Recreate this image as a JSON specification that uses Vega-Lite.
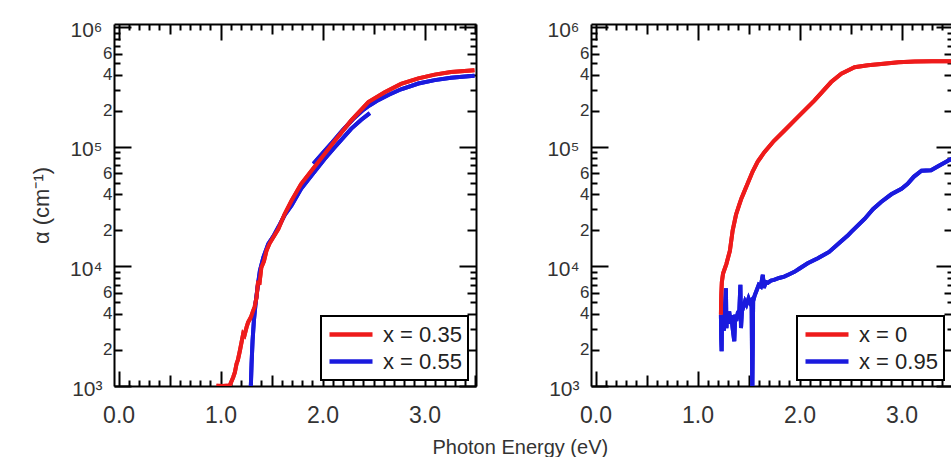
{
  "$schema": "https://vega.github.io/schema/vega-lite/v6.json",
  "background": "white",
  "padding": {"left": 30, "top": 19, "right": 0, "bottom": 0},
  "bounds": "flush",
  "spacing": 115,
  "title": {"text": "Photon Energy (eV)", "orient": "bottom", "anchor": "middle", "fontSize": 20, "font": "Liberation Sans", "fontWeight": "normal", "color": "#333", "offset": 6, "dx": 28, "dy": -4},
  "resolve": {"scale": {"color": "independent"}, "legend": {"color": "independent"}},
  "hconcat": [
    {
      "width": 362, "height": 362,
      "data": {"values": [
        {"s": "x = 0.55", "g": "b1", "E": 1.297, "a": 1000},
        {"s": "x = 0.55", "g": "b1", "E": 1.304, "a": 1530},
        {"s": "x = 0.55", "g": "b1", "E": 1.314, "a": 2400},
        {"s": "x = 0.55", "g": "b1", "E": 1.327, "a": 3530},
        {"s": "x = 0.55", "g": "b1", "E": 1.343, "a": 4870},
        {"s": "x = 0.55", "g": "b1", "E": 1.363, "a": 6700},
        {"s": "x = 0.55", "g": "b1", "E": 1.386, "a": 9200},
        {"s": "x = 0.55", "g": "b1", "E": 1.42, "a": 11900},
        {"s": "x = 0.55", "g": "b1", "E": 1.468, "a": 15400},
        {"s": "x = 0.55", "g": "b1", "E": 1.517, "a": 17800},
        {"s": "x = 0.55", "g": "b1", "E": 1.57, "a": 21500},
        {"s": "x = 0.55", "g": "b1", "E": 1.63, "a": 27000},
        {"s": "x = 0.55", "g": "b1", "E": 1.696, "a": 32300},
        {"s": "x = 0.55", "g": "b1", "E": 1.79, "a": 44600},
        {"s": "x = 0.55", "g": "b1", "E": 1.892, "a": 57300},
        {"s": "x = 0.55", "g": "b1", "E": 2.02, "a": 79000},
        {"s": "x = 0.55", "g": "b1", "E": 2.12, "a": 99000},
        {"s": "x = 0.55", "g": "b1", "E": 2.28, "a": 141000},
        {"s": "x = 0.55", "g": "b1", "E": 2.38, "a": 168000},
        {"s": "x = 0.55", "g": "b1", "E": 2.464, "a": 191000},
        {"s": "x = 0.55", "g": "b2", "E": 1.91, "a": 72000},
        {"s": "x = 0.55", "g": "b2", "E": 2.0, "a": 88000},
        {"s": "x = 0.55", "g": "b2", "E": 2.1, "a": 110000},
        {"s": "x = 0.55", "g": "b2", "E": 2.2, "a": 138000},
        {"s": "x = 0.55", "g": "b2", "E": 2.3, "a": 170000},
        {"s": "x = 0.55", "g": "b2", "E": 2.4, "a": 203000},
        {"s": "x = 0.55", "g": "b2", "E": 2.46, "a": 221000},
        {"s": "x = 0.55", "g": "b2", "E": 2.55, "a": 246000},
        {"s": "x = 0.55", "g": "b2", "E": 2.65, "a": 272000},
        {"s": "x = 0.55", "g": "b2", "E": 2.77, "a": 302000},
        {"s": "x = 0.55", "g": "b2", "E": 2.94, "a": 337000},
        {"s": "x = 0.55", "g": "b2", "E": 3.1, "a": 360000},
        {"s": "x = 0.55", "g": "b2", "E": 3.26, "a": 377000},
        {"s": "x = 0.55", "g": "b2", "E": 3.4, "a": 386000},
        {"s": "x = 0.55", "g": "b2", "E": 3.49, "a": 392000},
        {"s": "x = 0.35", "g": "r1", "E": 0.96, "a": 1005},
        {"s": "x = 0.35", "g": "r1", "E": 1.02, "a": 1000},
        {"s": "x = 0.35", "g": "r1", "E": 1.09, "a": 1008},
        {"s": "x = 0.35", "g": "r1", "E": 1.124, "a": 1185},
        {"s": "x = 0.35", "g": "r1", "E": 1.14, "a": 1300},
        {"s": "x = 0.35", "g": "r1", "E": 1.157, "a": 1535},
        {"s": "x = 0.35", "g": "r1", "E": 1.17, "a": 1650},
        {"s": "x = 0.35", "g": "r1", "E": 1.19, "a": 1980},
        {"s": "x = 0.35", "g": "r1", "E": 1.205, "a": 2300},
        {"s": "x = 0.35", "g": "r1", "E": 1.222, "a": 2730},
        {"s": "x = 0.35", "g": "r1", "E": 1.235, "a": 2650},
        {"s": "x = 0.35", "g": "r1", "E": 1.255, "a": 3100},
        {"s": "x = 0.35", "g": "r1", "E": 1.27, "a": 3400},
        {"s": "x = 0.35", "g": "r1", "E": 1.288, "a": 3630},
        {"s": "x = 0.35", "g": "r1", "E": 1.3, "a": 3800},
        {"s": "x = 0.35", "g": "r1", "E": 1.32, "a": 4270},
        {"s": "x = 0.35", "g": "r1", "E": 1.335, "a": 4600},
        {"s": "x = 0.35", "g": "r1", "E": 1.353, "a": 5520},
        {"s": "x = 0.35", "g": "r1", "E": 1.369, "a": 7600},
        {"s": "x = 0.35", "g": "r1", "E": 1.38, "a": 7000},
        {"s": "x = 0.35", "g": "r1", "E": 1.4, "a": 9800},
        {"s": "x = 0.35", "g": "r1", "E": 1.425, "a": 11000},
        {"s": "x = 0.35", "g": "r1", "E": 1.45, "a": 13500},
        {"s": "x = 0.35", "g": "r1", "E": 1.48, "a": 15500},
        {"s": "x = 0.35", "g": "r1", "E": 1.517, "a": 17500},
        {"s": "x = 0.35", "g": "r1", "E": 1.566, "a": 20500},
        {"s": "x = 0.35", "g": "r1", "E": 1.63, "a": 27500},
        {"s": "x = 0.35", "g": "r1", "E": 1.696, "a": 35300},
        {"s": "x = 0.35", "g": "r1", "E": 1.79, "a": 48700},
        {"s": "x = 0.35", "g": "r1", "E": 1.892, "a": 63000},
        {"s": "x = 0.35", "g": "r1", "E": 2.02, "a": 87000},
        {"s": "x = 0.35", "g": "r1", "E": 2.12, "a": 112000},
        {"s": "x = 0.35", "g": "r1", "E": 2.28, "a": 165000},
        {"s": "x = 0.35", "g": "r1", "E": 2.45, "a": 236000},
        {"s": "x = 0.35", "g": "r1", "E": 2.61, "a": 285000},
        {"s": "x = 0.35", "g": "r1", "E": 2.77, "a": 335000},
        {"s": "x = 0.35", "g": "r1", "E": 2.94, "a": 372000},
        {"s": "x = 0.35", "g": "r1", "E": 3.1, "a": 400000},
        {"s": "x = 0.35", "g": "r1", "E": 3.26, "a": 420000},
        {"s": "x = 0.35", "g": "r1", "E": 3.49, "a": 436000}
      ]},
      "encoding": {
        "color": {"field": "s", "type": "nominal", "scale": {"domain": ["x = 0.35", "x = 0.55"], "range": ["#ee1b1b", "#1a1ade"]}, "legend": {"title": null, "orient": "none", "legendX": 207, "legendY": 292}},
        "detail": {"field": "g"}
      },
      "layer": [
        {
          "mark": {"type": "line", "strokeWidth": 4, "clip": true},
          "encoding": {
            "x": {"field": "E", "type": "quantitative", "scale": {"domain": [-0.045, 3.505], "nice": false, "zero": false},
              "axis": {"orient": "bottom", "title": null, "values": [0,0.1,0.2,0.3,0.4,0.5,0.6,0.7,0.8,0.9,1,1.1,1.2,1.3,1.4,1.5,1.6,1.7,1.8,1.9,2,2.1,2.2,2.3,2.4,2.5,2.6,2.7,2.8,2.9,3,3.1,3.2,3.3,3.4,3.5],
                "labelExpr": "abs(datum.value-round(datum.value))<0.001 ? format(datum.value,'.1f') : ''",
                "labelFontSize": 23, "labelPadding": 33, "labelOverlap": false, "labelFlush": false, "labelBound": false,
                "tickSize": {"condition": [{"test": "abs(datum.value-round(datum.value))<0.001", "value": -15}, {"test": "abs(datum.value*2-round(datum.value*2))<0.001", "value": -11}], "value": -6}}},
            "y": {"field": "a", "type": "quantitative", "scale": {"type": "log", "domain": [1000, 1060000], "nice": false},
              "axis": {"orient": "left", "title": "α (cm⁻¹)", "titleFontSize": 22, "titlePadding": 16,
                "values": [1000,2000,3000,4000,5000,6000,7000,8000,9000,10000,20000,30000,40000,50000,60000,70000,80000,90000,100000,200000,300000,400000,500000,600000,700000,800000,900000,1000000],
                "labelExpr": "datum.value == 1000 ? '10³' : datum.value == 10000 ? '10⁴' : datum.value == 100000 ? '10⁵' : datum.value == 1000000 ? '10⁶' : indexof([2000,4000,6000,20000,40000,60000,200000,400000,600000], datum.value) >= 0 ? substring(toString(datum.value), 0, 1) : ''",
                "labelOverlap": false, "labelFlush": false, "labelBound": false,
                "labelFontSize": {"condition": {"test": "indexof([1000,10000,100000,1000000], datum.value) >= 0", "value": 21}, "value": 17},
                "labelPadding": {"condition": {"test": "indexof([1000,10000,100000,1000000], datum.value) >= 0", "value": 29}, "value": 10},
                "labelOffset": {"condition": {"test": "indexof([1000,10000,100000,1000000], datum.value) >= 0", "value": 3}, "value": 0},
                "tickSize": {"condition": [{"test": "indexof([1000,10000,100000,1000000], datum.value) >= 0", "value": -17}, {"test": "indexof([2000,4000,6000,20000,40000,60000,200000,400000,600000], datum.value) >= 0", "value": -8}], "value": -6}}}
          }
        },
        {
          "mark": {"type": "line", "strokeWidth": 4, "clip": true},
          "encoding": {
            "x": {"field": "E", "type": "quantitative",
              "axis": {"orient": "top", "title": null, "labels": false, "values": [0,0.1,0.2,0.3,0.4,0.5,0.6,0.7,0.8,0.9,1,1.1,1.2,1.3,1.4,1.5,1.6,1.7,1.8,1.9,2,2.1,2.2,2.3,2.4,2.5,2.6,2.7,2.8,2.9,3,3.1,3.2,3.3,3.4,3.5],
                "tickSize": {"condition": [{"test": "abs(datum.value-round(datum.value))<0.001", "value": -16}, {"test": "abs(datum.value*2-round(datum.value*2))<0.001", "value": -10}], "value": -6}}},
            "y": {"field": "a", "type": "quantitative",
              "axis": {"orient": "right", "title": null, "labels": false,
                "values": [1000,2000,3000,4000,5000,6000,7000,8000,9000,10000,20000,30000,40000,50000,60000,70000,80000,90000,100000,200000,300000,400000,500000,600000,700000,800000,900000,1000000],
                "tickSize": {"condition": [{"test": "indexof([1000,10000,100000,1000000], datum.value) >= 0", "value": -17}, {"test": "indexof([2000,4000,6000,20000,40000,60000,200000,400000,600000], datum.value) >= 0", "value": -9}], "value": -6}}}
          }
        }
      ],
      "resolve": {"axis": {"x": "independent", "y": "independent"}}
    },
    {
      "width": 362, "height": 362,
      "data": {"values": [
        {"s": "x = 0.95", "g": "b", "E": 1.229, "a": 3950},
        {"s": "x = 0.95", "g": "b", "E": 1.232, "a": 2500},
        {"s": "x = 0.95", "g": "b", "E": 1.236, "a": 1950},
        {"s": "x = 0.95", "g": "b", "E": 1.24, "a": 3700},
        {"s": "x = 0.95", "g": "b", "E": 1.245, "a": 3000},
        {"s": "x = 0.95", "g": "b", "E": 1.25, "a": 3600},
        {"s": "x = 0.95", "g": "b", "E": 1.258, "a": 2900},
        {"s": "x = 0.95", "g": "b", "E": 1.265, "a": 4000},
        {"s": "x = 0.95", "g": "b", "E": 1.272, "a": 5200},
        {"s": "x = 0.95", "g": "b", "E": 1.278, "a": 6560},
        {"s": "x = 0.95", "g": "b", "E": 1.283, "a": 3050},
        {"s": "x = 0.95", "g": "b", "E": 1.29, "a": 3800},
        {"s": "x = 0.95", "g": "b", "E": 1.3, "a": 3300},
        {"s": "x = 0.95", "g": "b", "E": 1.31, "a": 4200},
        {"s": "x = 0.95", "g": "b", "E": 1.32, "a": 3600},
        {"s": "x = 0.95", "g": "b", "E": 1.33, "a": 3900},
        {"s": "x = 0.95", "g": "b", "E": 1.345, "a": 3000},
        {"s": "x = 0.95", "g": "b", "E": 1.36, "a": 2370},
        {"s": "x = 0.95", "g": "b", "E": 1.37, "a": 3950},
        {"s": "x = 0.95", "g": "b", "E": 1.38, "a": 3500},
        {"s": "x = 0.95", "g": "b", "E": 1.395, "a": 4100},
        {"s": "x = 0.95", "g": "b", "E": 1.41, "a": 4300},
        {"s": "x = 0.95", "g": "b", "E": 1.42, "a": 7000},
        {"s": "x = 0.95", "g": "b", "E": 1.426, "a": 3050},
        {"s": "x = 0.95", "g": "b", "E": 1.435, "a": 4200},
        {"s": "x = 0.95", "g": "b", "E": 1.45, "a": 4600},
        {"s": "x = 0.95", "g": "b", "E": 1.465, "a": 5100},
        {"s": "x = 0.95", "g": "b", "E": 1.48, "a": 4800},
        {"s": "x = 0.95", "g": "b", "E": 1.5, "a": 5400},
        {"s": "x = 0.95", "g": "b", "E": 1.515, "a": 5000},
        {"s": "x = 0.95", "g": "b", "E": 1.53, "a": 5200},
        {"s": "x = 0.95", "g": "b", "E": 1.537, "a": 900},
        {"s": "x = 0.95", "g": "b", "E": 1.545, "a": 5100},
        {"s": "x = 0.95", "g": "b", "E": 1.56, "a": 5700},
        {"s": "x = 0.95", "g": "b", "E": 1.58, "a": 6300},
        {"s": "x = 0.95", "g": "b", "E": 1.6, "a": 7000},
        {"s": "x = 0.95", "g": "b", "E": 1.62, "a": 6800},
        {"s": "x = 0.95", "g": "b", "E": 1.64, "a": 8500},
        {"s": "x = 0.95", "g": "b", "E": 1.65, "a": 6600},
        {"s": "x = 0.95", "g": "b", "E": 1.67, "a": 7400},
        {"s": "x = 0.95", "g": "b", "E": 1.69, "a": 7300},
        {"s": "x = 0.95", "g": "b", "E": 1.72, "a": 7600},
        {"s": "x = 0.95", "g": "b", "E": 1.75, "a": 7700},
        {"s": "x = 0.95", "g": "b", "E": 1.8, "a": 8000},
        {"s": "x = 0.95", "g": "b", "E": 1.85, "a": 8200},
        {"s": "x = 0.95", "g": "b", "E": 1.9, "a": 8600},
        {"s": "x = 0.95", "g": "b", "E": 1.95, "a": 9000},
        {"s": "x = 0.95", "g": "b", "E": 2.0, "a": 9600},
        {"s": "x = 0.95", "g": "b", "E": 2.08, "a": 10600},
        {"s": "x = 0.95", "g": "b", "E": 2.18, "a": 11700},
        {"s": "x = 0.95", "g": "b", "E": 2.29, "a": 13200},
        {"s": "x = 0.95", "g": "b", "E": 2.4, "a": 16000},
        {"s": "x = 0.95", "g": "b", "E": 2.47, "a": 18000},
        {"s": "x = 0.95", "g": "b", "E": 2.51, "a": 19500},
        {"s": "x = 0.95", "g": "b", "E": 2.64, "a": 25000},
        {"s": "x = 0.95", "g": "b", "E": 2.72, "a": 30000},
        {"s": "x = 0.95", "g": "b", "E": 2.8, "a": 34500},
        {"s": "x = 0.95", "g": "b", "E": 2.9, "a": 40000},
        {"s": "x = 0.95", "g": "b", "E": 3.0, "a": 44500},
        {"s": "x = 0.95", "g": "b", "E": 3.06, "a": 49000},
        {"s": "x = 0.95", "g": "b", "E": 3.12, "a": 56000},
        {"s": "x = 0.95", "g": "b", "E": 3.196, "a": 63000},
        {"s": "x = 0.95", "g": "b", "E": 3.29, "a": 63500},
        {"s": "x = 0.95", "g": "b", "E": 3.35, "a": 68000},
        {"s": "x = 0.95", "g": "b", "E": 3.46, "a": 76700},
        {"s": "x = 0.95", "g": "b", "E": 3.505, "a": 80000},
        {"s": "x = 0", "g": "r", "E": 1.229, "a": 3950},
        {"s": "x = 0", "g": "r", "E": 1.231, "a": 5000},
        {"s": "x = 0", "g": "r", "E": 1.233, "a": 5900},
        {"s": "x = 0", "g": "r", "E": 1.238, "a": 7360},
        {"s": "x = 0", "g": "r", "E": 1.25, "a": 8700},
        {"s": "x = 0", "g": "r", "E": 1.283, "a": 10500},
        {"s": "x = 0", "g": "r", "E": 1.317, "a": 13500},
        {"s": "x = 0", "g": "r", "E": 1.344, "a": 19900},
        {"s": "x = 0", "g": "r", "E": 1.377, "a": 27000},
        {"s": "x = 0", "g": "r", "E": 1.41, "a": 33000},
        {"s": "x = 0", "g": "r", "E": 1.43, "a": 37000},
        {"s": "x = 0", "g": "r", "E": 1.46, "a": 42500},
        {"s": "x = 0", "g": "r", "E": 1.49, "a": 49000},
        {"s": "x = 0", "g": "r", "E": 1.54, "a": 62000},
        {"s": "x = 0", "g": "r", "E": 1.59, "a": 75000},
        {"s": "x = 0", "g": "r", "E": 1.655, "a": 90000},
        {"s": "x = 0", "g": "r", "E": 1.75, "a": 112000},
        {"s": "x = 0", "g": "r", "E": 1.85, "a": 136000},
        {"s": "x = 0", "g": "r", "E": 1.98, "a": 176000},
        {"s": "x = 0", "g": "r", "E": 2.145, "a": 243000},
        {"s": "x = 0", "g": "r", "E": 2.31, "a": 347000},
        {"s": "x = 0", "g": "r", "E": 2.41, "a": 408000},
        {"s": "x = 0", "g": "r", "E": 2.54, "a": 461000},
        {"s": "x = 0", "g": "r", "E": 2.67, "a": 480000},
        {"s": "x = 0", "g": "r", "E": 2.8, "a": 492000},
        {"s": "x = 0", "g": "r", "E": 2.97, "a": 508000},
        {"s": "x = 0", "g": "r", "E": 3.13, "a": 516000},
        {"s": "x = 0", "g": "r", "E": 3.3, "a": 518000},
        {"s": "x = 0", "g": "r", "E": 3.46, "a": 518000},
        {"s": "x = 0", "g": "r", "E": 3.505, "a": 516000}
      ]},
      "encoding": {
        "color": {"field": "s", "type": "nominal", "scale": {"domain": ["x = 0", "x = 0.95"], "range": ["#ee1b1b", "#1a1ade"]}, "legend": {"title": null, "orient": "none", "legendX": 206, "legendY": 292}},
        "detail": {"field": "g"}
      },
      "layer": [
        {
          "mark": {"type": "line", "strokeWidth": 4, "clip": true},
          "encoding": {
            "x": {"field": "E", "type": "quantitative", "scale": {"domain": [-0.045, 3.505], "nice": false, "zero": false},
              "axis": {"orient": "bottom", "title": null, "values": [0,0.1,0.2,0.3,0.4,0.5,0.6,0.7,0.8,0.9,1,1.1,1.2,1.3,1.4,1.5,1.6,1.7,1.8,1.9,2,2.1,2.2,2.3,2.4,2.5,2.6,2.7,2.8,2.9,3,3.1,3.2,3.3,3.4,3.5],
                "labelExpr": "abs(datum.value-round(datum.value))<0.001 ? format(datum.value,'.1f') : ''",
                "labelFontSize": 23, "labelPadding": 33, "labelOverlap": false, "labelFlush": false, "labelBound": false,
                "tickSize": {"condition": [{"test": "abs(datum.value-round(datum.value))<0.001", "value": -15}, {"test": "abs(datum.value*2-round(datum.value*2))<0.001", "value": -11}], "value": -6}}},
            "y": {"field": "a", "type": "quantitative", "scale": {"type": "log", "domain": [1000, 1060000], "nice": false},
              "axis": {"orient": "left", "title": null,
                "values": [1000,2000,3000,4000,5000,6000,7000,8000,9000,10000,20000,30000,40000,50000,60000,70000,80000,90000,100000,200000,300000,400000,500000,600000,700000,800000,900000,1000000],
                "labelExpr": "datum.value == 1000 ? '10³' : datum.value == 10000 ? '10⁴' : datum.value == 100000 ? '10⁵' : datum.value == 1000000 ? '10⁶' : indexof([2000,4000,6000,20000,40000,60000,200000,400000,600000], datum.value) >= 0 ? substring(toString(datum.value), 0, 1) : ''",
                "labelOverlap": false, "labelFlush": false, "labelBound": false,
                "labelFontSize": {"condition": {"test": "indexof([1000,10000,100000,1000000], datum.value) >= 0", "value": 21}, "value": 17},
                "labelPadding": {"condition": {"test": "indexof([1000,10000,100000,1000000], datum.value) >= 0", "value": 29}, "value": 10},
                "labelOffset": {"condition": {"test": "indexof([1000,10000,100000,1000000], datum.value) >= 0", "value": 3}, "value": 0},
                "tickSize": {"condition": [{"test": "indexof([1000,10000,100000,1000000], datum.value) >= 0", "value": -17}, {"test": "indexof([2000,4000,6000,20000,40000,60000,200000,400000,600000], datum.value) >= 0", "value": -8}], "value": -6}}}
          }
        },
        {
          "mark": {"type": "line", "strokeWidth": 4, "clip": true},
          "encoding": {
            "x": {"field": "E", "type": "quantitative",
              "axis": {"orient": "top", "title": null, "labels": false, "values": [0,0.1,0.2,0.3,0.4,0.5,0.6,0.7,0.8,0.9,1,1.1,1.2,1.3,1.4,1.5,1.6,1.7,1.8,1.9,2,2.1,2.2,2.3,2.4,2.5,2.6,2.7,2.8,2.9,3,3.1,3.2,3.3,3.4,3.5],
                "tickSize": {"condition": [{"test": "abs(datum.value-round(datum.value))<0.001", "value": -16}, {"test": "abs(datum.value*2-round(datum.value*2))<0.001", "value": -10}], "value": -6}}},
            "y": {"field": "a", "type": "quantitative",
              "axis": {"orient": "right", "title": null, "labels": false,
                "values": [1000,2000,3000,4000,5000,6000,7000,8000,9000,10000,20000,30000,40000,50000,60000,70000,80000,90000,100000,200000,300000,400000,500000,600000,700000,800000,900000,1000000],
                "tickSize": {"condition": [{"test": "indexof([1000,10000,100000,1000000], datum.value) >= 0", "value": -17}, {"test": "indexof([2000,4000,6000,20000,40000,60000,200000,400000,600000], datum.value) >= 0", "value": -9}], "value": -6}}}
          }
        }
      ],
      "resolve": {"axis": {"x": "independent", "y": "independent"}}
    }
  ],
  "config": {
    "view": {"stroke": null},
    "font": "Liberation Sans",
    "axis": {"domainColor": "#000", "domainWidth": 2, "tickColor": "#000", "tickWidth": 2, "grid": false, "labelColor": "#333", "labelFont": "Liberation Sans", "titleFont": "Liberation Sans", "titleFontWeight": "normal", "titleColor": "#333"},
    "legend": {"symbolType": "stroke", "symbolStrokeWidth": 4.5, "symbolSize": 1849, "labelFontSize": 22, "labelColor": "#222", "labelFont": "Liberation Sans", "strokeColor": "#000", "strokeWidth": 2, "fillColor": "#fff", "padding": 6, "clipHeight": 25, "rowPadding": 2, "labelOffset": 8, "labelLimit": 300}
  }
}
